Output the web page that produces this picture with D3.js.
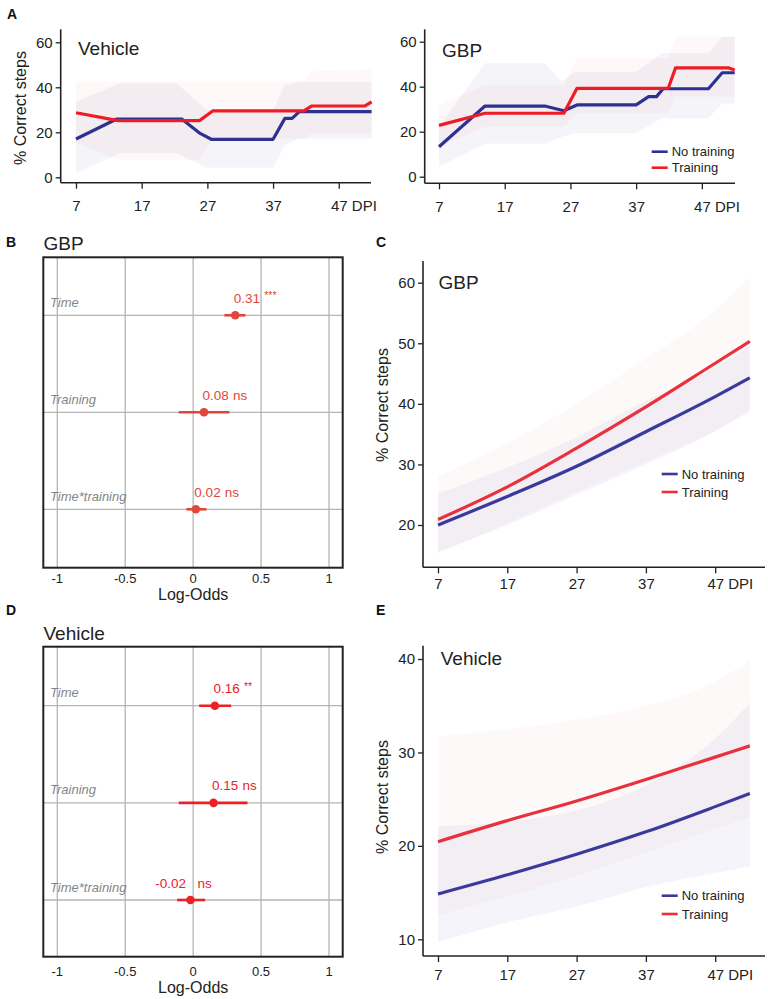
<!DOCTYPE html>
<html><head><meta charset="utf-8">
<script src="https://cdn.jsdelivr.net/npm/d3@7"></script>
<style>body{margin:0;background:#fff} svg{display:block;font-family:"Liberation Sans",Arial,Helvetica,sans-serif}</style>
</head><body><svg id="c" width="768" height="999"></svg>
<script>
// ---------- DATA ----------
const dpiTicks = [7, 17, 27, 37, 47];
// Panel A (raw data, [day, % correct])
const aVehNoTrain = [[7,17.0],[13.2,25.9],[23.1,25.9],[25.9,19.5],[27.6,16.9],[37,16.9],[38.8,26.2],[39.9,26.2],[41,29.2],[52,29.2]];
const aVehTrain = [[7,28.7],[13.4,25.2],[25.8,25.2],[27.8,29.5],[41.7,29.5],[42.9,31.7],[51,31.7],[52,33.5]];
const aVehNoTrainBand = [[7,1.8,33.6],[13.7,10.7,41.8],[22.3,10.7,41.8],[26.9,4.4,29.9],[37,4.4,29.9],[38.8,14.4,41],[41,17.3,42.5],[52,17.3,42.5]];
const aVehTrainBand = [[7,15.5,42.5],[13.4,7.7,42.5],[25.8,7.7,42.5],[27.8,17,42.5],[41.7,17,42.5],[42.9,19.5,47],[52,19.5,48]];
const aGbpNoTrain = [[7,13.3],[14,31.4],[23.1,31.4],[26,29.3],[28,31.9],[37,31.9],[38.9,35.6],[40.1,35.6],[41.1,39.1],[48,39.1],[50.1,46.2],[52,46.2]];
const aGbpTrain = [[7,22.8],[14,28.2],[26,28.2],[28,39.3],[41.9,39.3],[43,48.4],[51,48.4],[52,47.4]];
const aGbpNoTrainBand = [[7,4.4,22.2],[14,14.8,50.4],[23.1,14.8,50.4],[25.7,17.8,42.2],[27.7,19.3,46.7],[37,19.3,46.7],[39.9,24.4,52.6],[41,26,55],[48,26,55],[50.1,32.6,62.2],[52,32.6,62.2]];
const aGbpTrainBand = [[7,13.3,31.9],[14,22.2,40.8],[26,22.2,40.8],[28,28.2,52.6],[41.9,28.2,52.6],[43,35.6,62.2],[52,35.6,62.2]];
// Panels B / D (log-odds estimates)
const terms = ["Time", "Training", "Time*training"];
const logOddsTicks = [-1, -0.5, 0, 0.5, 1];
const bEst = [0.31, 0.08, 0.02];
const bLo = [0.23, -0.106, -0.05];
const bHi = [0.385, 0.267, 0.098];
const bSig = ["***", "ns", "ns"];
const dEst = [0.16, 0.15, -0.02];
const dLo = [0.044, -0.106, -0.118];
const dHi = [0.28, 0.40, 0.088];
const dSig = ["**", "ns", "ns"];
// Panels C / E (model predictions)
const fitDays = [7, 17, 27, 37, 47, 52];
const cNoTrain = [20.0, 24.7, 29.7, 35.4, 41.2, 44.3];
const cTrain = [20.9, 26.3, 32.7, 39.5, 46.7, 50.3];
const cNoTrainLo = [15.6, 20.0, 25.0, 30.0, 35.5, 39.0];
const cNoTrainHi = [25.2, 29.5, 34.5, 40.5, 46.0, 49.7];
const cTrainLo = [15.3, 20.3, 25.5, 30.5, 35.5, 38.5];
const cTrainHi = [28.0, 33.5, 40.0, 47.5, 55.5, 61.0];
const eNoTrain = [14.85, 16.9, 19.1, 21.5, 24.2, 25.6];
const eTrain = [20.45, 22.7, 24.8, 27.1, 29.5, 30.7];
const eNoTrainLo = [9.7, 11.8, 13.5, 15.6, 17.1, 17.8];
const eNoTrainHi = [22.1, 22.6, 23.8, 26.5, 31.5, 35.3];
const eTrainLo = [12.6, 14.6, 16.8, 19.3, 21.8, 23.1];
const eTrainHi = [31.7, 32.5, 33.5, 35.0, 37.6, 39.8];
const legendLabels = ["No training", "Training"];

// ---------- DRAW ----------
const svg = d3.select("#c");
const BLUE = "#2e3192", RED = "#ee1c25", BLUE2 = "#3a3a9c", RED2 = "#e8313d";
const AX = "#222";

function timePanel(cfg) {
  const g = svg.append("g");
  const x = d3.scaleLinear().domain([7, 52]).range(cfg.xr);
  const y = d3.scaleLinear().domain(cfg.yd).range(cfg.yr);
  const curve = cfg.smooth ? d3.curveMonotoneX : d3.curveLinear;
  cfg.series.forEach(s => {
    g.append("path").datum(s.band)
      .attr("d", d3.area().curve(curve).x(d => x(d[0])).y0(d => y(d[1])).y1(d => y(d[2])))
      .attr("fill", s.color).attr("fill-opacity", s.op);
  });
  cfg.series.forEach(s => {
    g.append("path").datum(s.pts)
      .attr("d", d3.line().curve(curve).x(d => x(d[0])).y(d => y(d[1])))
      .attr("fill", "none").attr("stroke", s.color).attr("stroke-width", 3.2)
      .attr("stroke-linejoin", "round");
  });
  const xa = g.append("g").attr("transform", `translate(0,${cfg.axisY})`)
    .call(d3.axisBottom(x).tickValues(dpiTicks).tickSize(6).tickPadding(cfg.pad).tickSizeOuter(0));
  xa.select(".domain").remove();
  xa.selectAll("line").attr("stroke", AX).attr("stroke-width", 1.3);
  xa.selectAll("text").attr("font-size", 15).attr("fill", AX).attr("font-family", null)
    .each(function(d) {
      if (d === 47) d3.select(this).text("47 DPI").attr("text-anchor", "start").attr("x", -8.3);
    });
  const ya = g.append("g").attr("transform", `translate(${cfg.axisX},0)`)
    .call(d3.axisLeft(y).tickValues(cfg.yt).tickSize(5).tickPadding(3).tickSizeOuter(0));
  ya.select(".domain").remove();
  ya.selectAll("line").attr("stroke", AX).attr("stroke-width", 1.3);
  ya.selectAll("text").attr("font-size", 15).attr("fill", AX).attr("font-family", null);
  g.append("line").attr("x1", cfg.axisX).attr("x2", cfg.axisX).attr("y1", cfg.axisTop).attr("y2", cfg.axisY)
    .attr("stroke", AX).attr("stroke-width", 1.6);
  g.append("line").attr("x1", cfg.axisX).attr("x2", cfg.axisRight).attr("y1", cfg.axisY).attr("y2", cfg.axisY)
    .attr("stroke", AX).attr("stroke-width", 1.6);
  g.append("text").attr("x", cfg.title[1]).attr("y", cfg.title[2]).attr("font-size", 19)
    .attr("fill", AX).text(cfg.title[0]);
  if (cfg.ylab) {
    g.append("text").attr("transform", `translate(${cfg.ylab[0]},${cfg.ylab[1]}) rotate(-90)`)
      .attr("text-anchor", "middle").attr("font-size", 16).attr("fill", AX).text("% Correct steps");
  }
  if (cfg.legend) {
    const [lx, ly, gap] = cfg.legend;
    cfg.series.forEach((s, i) => {
      g.append("line").attr("x1", lx).attr("x2", lx + 16).attr("y1", ly + i * gap).attr("y2", ly + i * gap)
        .attr("stroke", s.color).attr("stroke-width", 2.6);
      g.append("text").attr("x", lx + 20).attr("y", ly + i * gap + 4.6).attr("font-size", 13)
        .attr("fill", AX).text(legendLabels[i]);
    });
  }
}

function forest(cfg) {
  const g = svg.append("g");
  const [bx0, by0, bx1, by1] = cfg.box;
  const x = d3.scaleLinear().domain([-1, 1]).range([57.3, 329]);
  const y = d3.scalePoint().domain(terms).range(cfg.rows);
  g.selectAll(".vg").data(logOddsTicks).enter().append("line")
    .attr("x1", d => x(d)).attr("x2", d => x(d)).attr("y1", by0).attr("y2", by1)
    .attr("stroke", "#b5b5b5").attr("stroke-width", 1.3);
  g.selectAll(".hg").data(terms).enter().append("line")
    .attr("x1", bx0).attr("x2", bx1).attr("y1", d => y(d)).attr("y2", d => y(d))
    .attr("stroke", "#b5b5b5").attr("stroke-width", 1.3);
  g.selectAll(".tl").data(terms).enter().append("text")
    .attr("x", 50).attr("y", d => y(d) - 8.5).attr("font-size", 13).attr("font-style", "italic")
    .attr("fill", "#858585").text(d => d);
  terms.forEach((t, i) => {
    const cy = y(t), cx = x(cfg.est[i]);
    g.append("line").attr("x1", x(cfg.lo[i])).attr("x2", x(cfg.hi[i])).attr("y1", cy).attr("y2", cy)
      .attr("stroke", cfg.color).attr("stroke-width", 2.6);
    g.append("circle").attr("cx", cx).attr("cy", cy).attr("r", 4.3).attr("fill", cfg.color);
    const num = cfg.est[i].toFixed(2);
    const neg = cfg.est[i] < 0;
    g.append("text").attr("x", neg ? cx - 4.5 : cx - 1.5).attr("y", cy - 12.5)
      .attr("text-anchor", neg ? "end" : "start").attr("font-size", 13.5).attr("fill", cfg.color).text(num);
    const star = cfg.sig[i] !== "ns";
    g.append("text").attr("x", neg ? cx + 7 : cx + 29).attr("y", cy - (star ? 16 : 12.5))
      .attr("font-size", star ? 10.5 : 13.5).attr("fill", cfg.color).text(cfg.sig[i]);
  });
  g.append("rect").attr("x", bx0).attr("y", by0).attr("width", bx1 - bx0).attr("height", by1 - by0)
    .attr("fill", "none").attr("stroke", AX).attr("stroke-width", 2);
  g.selectAll(".xt").data(logOddsTicks).enter().append("text")
    .attr("x", d => x(d)).attr("y", by1 + cfg.tickOff).attr("text-anchor", "middle")
    .attr("font-size", 13).attr("fill", AX).text(d => d);
  g.append("text").attr("x", x(0)).attr("y", by1 + cfg.labOff).attr("text-anchor", "middle")
    .attr("font-size", 16).attr("fill", AX).text("Log-Odds");
  g.append("text").attr("x", 43.5).attr("y", cfg.titleY).attr("font-size", 19).attr("fill", AX).text(cfg.title);
}

const zip = (d, v) => d.map((day, i) => [day, v[i]]);
const zip3 = (d, lo, hi) => d.map((day, i) => [day, lo[i], hi[i]]);

const BOP = 0.055, ROP = 0.03;
timePanel({ xr: [76, 371.6], yd: [0, 60], yr: [177.3, 42.3], yt: [0, 20, 40, 60], axisX: 60.7, axisY: 182.7,
  axisTop: 29.3, axisRight: 371, pad: 12, title: ["Vehicle", 78, 55], ylab: [26, 108],
  series: [{ pts: aVehNoTrain, band: aVehNoTrainBand, color: BLUE, op: BOP },
           { pts: aVehTrain, band: aVehTrainBand, color: RED, op: ROP }] });
timePanel({ xr: [439, 734.7], yd: [0, 60], yr: [176.7, 41.7], yt: [0, 20, 40, 60], axisX: 424.7, axisY: 183.3,
  axisTop: 29.3, axisRight: 735, pad: 12, title: ["GBP", 442, 57], legend: [651.7, 151.7, 16],
  series: [{ pts: aGbpNoTrain, band: aGbpNoTrainBand, color: BLUE, op: BOP },
           { pts: aGbpTrain, band: aGbpTrainBand, color: RED, op: ROP }] });
timePanel({ xr: [438, 749.85], yd: [20, 60], yr: [525, 282.7], yt: [20, 30, 40, 50, 60], axisX: 423, axisY: 567.3,
  axisTop: 261, axisRight: 765, pad: 5.5, smooth: true, title: ["GBP", 438.5, 288.5], ylab: [388, 405],
  legend: [661.7, 474, 18],
  series: [{ pts: zip(fitDays, cNoTrain), band: zip3(fitDays, cNoTrainLo, cNoTrainHi), color: BLUE2, op: BOP },
           { pts: zip(fitDays, cTrain), band: zip3(fitDays, cTrainLo, cTrainHi), color: RED2, op: ROP }] });
timePanel({ xr: [438, 749.85], yd: [10, 40], yr: [939.3, 659], yt: [10, 20, 30, 40], axisX: 423, axisY: 956,
  axisTop: 645.7, axisRight: 765, pad: 7, smooth: true, title: ["Vehicle", 440.7, 665], ylab: [388, 797],
  legend: [661.7, 895.7, 18.3],
  series: [{ pts: zip(fitDays, eNoTrain), band: zip3(fitDays, eNoTrainLo, eNoTrainHi), color: BLUE2, op: BOP },
           { pts: zip(fitDays, eTrain), band: zip3(fitDays, eTrainLo, eTrainHi), color: RED2, op: ROP }] });
forest({ box: [43.3, 257.3, 342.7, 567.7], rows: [315.3, 509.3], est: bEst, lo: bLo, hi: bHi, sig: bSig,
  color: "#e2463a", tickOff: 15.5, labOff: 32, title: "GBP", titleY: 250 });
forest({ box: [43.3, 646.7, 342.7, 956.7], rows: [705.7, 900], est: dEst, lo: dLo, hi: dHi, sig: dSig,
  color: "#ec2027", tickOff: 19.5, labOff: 36, title: "Vehicle", titleY: 639.5 });

[["A", 7, 18.5], ["B", 6, 247], ["C", 376, 247], ["D", 6, 615], ["E", 376, 615]].forEach(([t, px, py]) => {
  svg.append("text").attr("x", px).attr("y", py).attr("font-size", 14).attr("font-weight", "bold")
    .attr("fill", "#111").text(t);
});
</script></body></html>
